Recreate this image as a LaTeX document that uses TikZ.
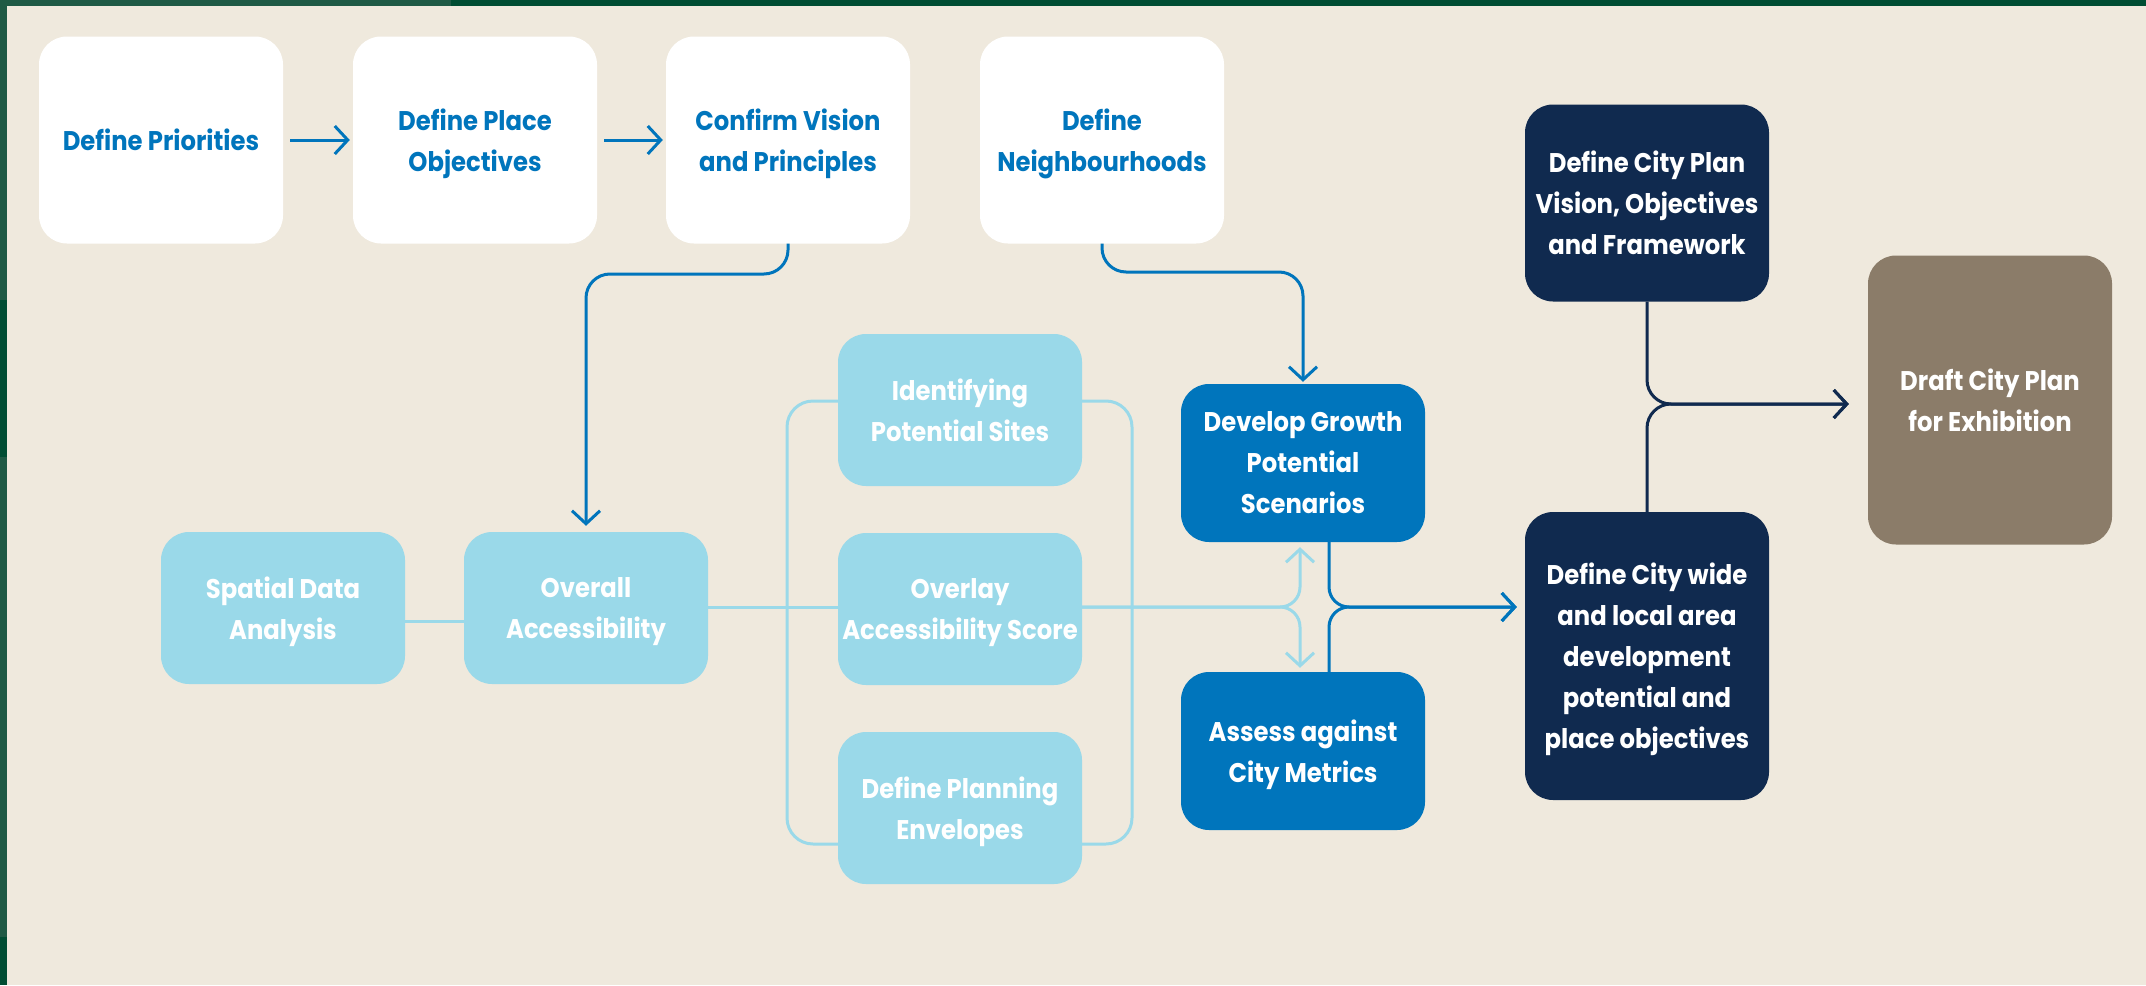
\documentclass[tikz,border=0pt]{standalone}
\usepackage{fontspec}
\setmainfont{Poppins}[FakeStretch=0.9]
\usetikzlibrary{arrows.meta}
\definecolor{bg}{HTML}{EFE9DD}
\definecolor{frdark}{HTML}{004D33}
\definecolor{frlight}{HTML}{1F5A45}
\definecolor{cblue}{HTML}{0075BC}
\definecolor{clight}{HTML}{9AD9E9}
\definecolor{cnavy}{HTML}{102A4F}
\definecolor{ctaupe}{HTML}{8B7C69}
\tikzset{
  box/.style={rectangle, rounded corners=28pt, minimum width=244pt, inner sep=0pt,
    align=center, text depth=-9pt, font=\fontsize{27}{41}\selectfont\bfseries},
  whitebox/.style={box, fill=white, text=cblue, minimum height=207pt},
  lightbox/.style={box, fill=clight, text=white, minimum height=152pt},
  bluebox/.style={box, fill=cblue, text=white, minimum height=158pt},
  navybox/.style={box, fill=cnavy, text=white},
  taupebox/.style={box, fill=ctaupe, text=white},
  tip/.style={-{Straight Barb[length=13pt,width=28pt]}},
  barr/.style={tip, draw=cblue, line width=3pt},
  bline/.style={draw=cblue, line width=3pt},
  larr/.style={tip, draw=clight, line width=3pt},
  lline/.style={draw=clight, line width=3pt},
  narr/.style={tip, draw=cnavy, line width=3pt},
}
\begin{document}
\begin{tikzpicture}[x=1pt,y=-1pt]
\useasboundingbox (0,0) rectangle (2146,985);
\fill[bg] (0,0) rectangle (2146,985);
\fill[frdark] (0,0) rectangle (2146,6);
\fill[frlight] (0,0) rectangle (451,6);
\fill[frlight] (0,0) rectangle (7,985);
\fill[frdark] (0,300) rectangle (7,457);
\fill[frdark] (0,937) rectangle (7,985);

% nodes
\node[whitebox] (pri) at (161,140) {Define Priorities};
\node[whitebox] (obj) at (475,140) {Define Place\\Objectives};
\node[whitebox] (vis) at (788,140) {Confirm Vision\\and Principles};
\node[whitebox] (nbh) at (1102,140) {Define\\Neighbourhoods};

\node[navybox, minimum height=197pt] (plan) at (1647,203) {Define City Plan\\Vision, Objectives\\and Framework};
\node[taupebox, minimum height=289pt] (draft) at (1990,400) {Draft City Plan\\for Exhibition};
\node[navybox, minimum height=288pt] (wide) at (1647,656) {Define City wide\\and local area\\development\\potential and\\place objectives};

\node[bluebox] (dev) at (1303,463) {Develop Growth\\Potential\\Scenarios};
\node[bluebox] (assess) at (1303,751) {Assess against\\City Metrics};

\node[lightbox] (ident) at (960,410) {Identifying\\Potential Sites};
\node[lightbox] (overlay) at (960,609) {Overlay\\Accessibility Score};
\node[lightbox] (envel) at (960,808) {Define Planning\\Envelopes};

\node[lightbox] (spatial) at (283,608) {Spatial Data\\Analysis};
\node[lightbox] (overall) at (586,608) {Overall\\Accessibility};

% helper coordinates
\coordinate (rowA) at (0,274);
\coordinate (rowB) at (0,272);
\coordinate (rowM) at (0,607);
\coordinate (rowN) at (0,404);
\coordinate (colL) at (1300,0);
\coordinate (colD) at (1329,0);
\coordinate (brL) at (787,0);
\coordinate (brR) at (1132,0);
\coordinate (brT) at (0,401);
\coordinate (brB) at (0,844);

% top row arrows
\draw[barr, shorten <=7pt, shorten >=3pt] (pri.east) -- (obj.west);
\draw[barr, shorten <=7pt, shorten >=3pt] (obj.east) -- (vis.west);

% vision -> overall
\draw[barr, rounded corners=24pt, shorten >=6pt] (vis.south) -- (vis.south |- rowA) -- (overall.north |- rowA) -- (overall.north);
% neighbourhoods -> develop
\draw[barr, rounded corners=24pt, shorten >=2pt] (nbh.south) -- (nbh.south |- rowB) -- (dev.north |- rowB) -- (dev.north);

% light connections
\draw[lline] ([yshift=-13pt]spatial.east) -- ([yshift=-13pt]overall.west);
\draw[lline] (overall.east |- rowM) -- (overlay.west |- rowM);
\draw[lline, rounded corners=26pt] (ident.west |- brT) -- (brL |- brT) -- (brL |- brB) -- (envel.west |- brB);
\draw[lline, rounded corners=26pt] (ident.east |- brT) -- (brR |- brT) -- (brR |- brB) -- (envel.east |- brB);
\draw[larr, rounded corners=20pt, shorten >=5pt] (overlay.east |- rowM) -- (colL |- rowM) -- (colL |- dev.south);
\draw[larr, rounded corners=20pt, shorten >=4pt] (overlay.east |- rowM) -- (colL |- rowM) -- (colL |- assess.north);

% dark blue merge
\draw[barr, rounded corners=20pt, shorten >=8pt] (colD |- dev.south) -- (colD |- rowM) -- (wide.west |- rowM);
\draw[barr, rounded corners=20pt, shorten >=8pt] (colD |- assess.north) -- (colD |- rowM) -- (wide.west |- rowM);

% navy merge
\draw[narr, rounded corners=24pt, shorten >=19pt] (plan.south) -- (plan.south |- rowN) -- (draft.west |- rowN);
\draw[narr, rounded corners=24pt, shorten >=19pt] (wide.north) -- (wide.north |- rowN) -- (draft.west |- rowN);
\end{tikzpicture}
\end{document}
